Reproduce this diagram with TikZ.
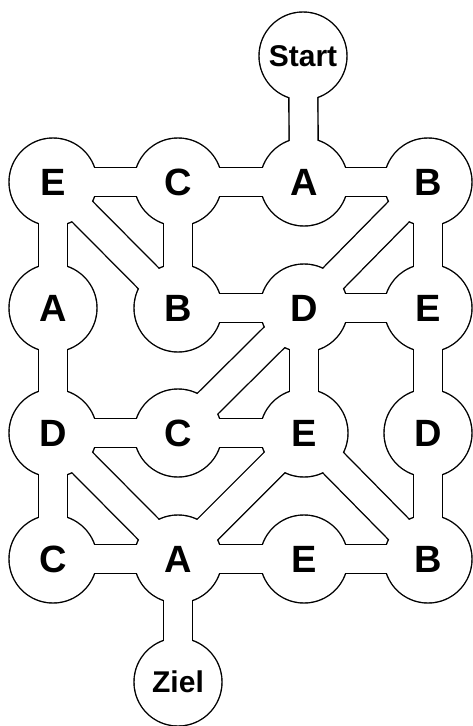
\documentclass[tikz,border=0pt]{standalone}
\usepackage{fontspec}
\setmainfont{Liberation Sans}
\usetikzlibrary{backgrounds}

\newcommand*{\roomr}{44}
\newcommand*{\gangw}{29}
\newcommand*{\wallw}{1.4}

\begin{document}
\begin{tikzpicture}
[
	x=1pt,y=-1pt,
	room/.style={circle,inner sep=0pt,minimum size=88pt,font=\bfseries\fontsize{38}{40}\selectfont},
	endroom/.style={room,font=\bfseries\fontsize{30}{32}\selectfont}
]

	\useasboundingbox (0,0) rectangle (472,726);

	% rooms
	\node[endroom] (S) at (303,56) {Start};

	\node[room] (E11) at (53,182) {E};
	\node[room] (C12) at (178,182) {C};
	\node[room] (A13) at (304,182) {A};
	\node[room] (B14) at (428,182) {B};

	\node[room] (A21) at (53,308) {A};
	\node[room] (B22) at (178,308) {B};
	\node[room] (D23) at (304,308) {D};
	\node[room] (E24) at (428,308) {E};

	\node[room] (D31) at (53,433) {D};
	\node[room] (C32) at (178,433) {C};
	\node[room] (E33) at (304,433) {E};
	\node[room] (D34) at (428,433) {D};

	\node[room] (C41) at (53,559) {C};
	\node[room] (A42) at (178,559) {A};
	\node[room] (E43) at (304,559) {E};
	\node[room] (B44) at (428,559) {B};

	\node[endroom] (Z) at (178,682) {Ziel};

	% walls first, then the floor
	\begin{pgfonlayer}{background}
	\foreach \c/\d in {black/1,white/-1} {
		\pgfmathsetmacro{\gw}{\gangw+\d*\wallw}
		\pgfmathsetmacro{\rad}{\roomr+\d*\wallw/2}
		\foreach \a/\b in {S/A13,E11/C12,C12/A13,A13/B14,E11/A21,E11/B22,
		                   C12/B22,B14/D23,B14/E24,B22/D23,D23/E24,A21/D31,
		                   D23/C32,D23/E33,E24/D34,D31/C32,C32/E33,D31/C41,
		                   D31/A42,E33/A42,E33/B44,D34/B44,C41/A42,A42/E43,
		                   E43/B44,A42/Z} {
			\draw[\c,line width=\gw pt] (\a.center) -- (\b.center);
		}
		\foreach \n in {S,E11,C12,A13,B14,A21,B22,D23,E24,
		                D31,C32,E33,D34,C41,A42,E43,B44,Z} {
			\fill[\c] (\n.center) circle[radius=\rad pt];
		}
	}
	\end{pgfonlayer}

\end{tikzpicture}
\end{document}
